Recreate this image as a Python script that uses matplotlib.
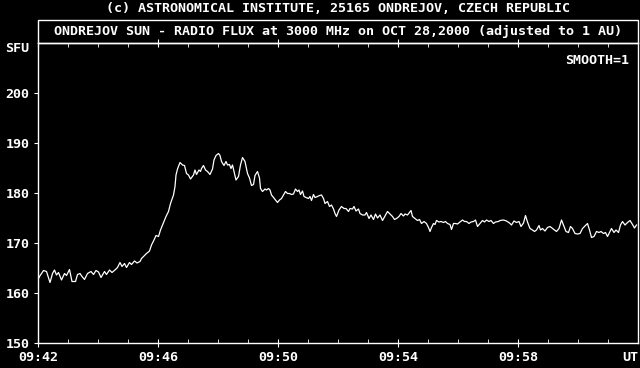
import matplotlib.pyplot as plt
from matplotlib.patches import Rectangle

# seconds after 09:42:00 UT and flux in SFU
seconds = [
    0, 3, 11, 17, 24, 29, 33, 37, 41, 47, 53, 57, 63, 68, 75, 79, 84, 88, 93, 99,
    106, 111, 116, 121, 126, 133, 137, 143, 148, 155, 159, 164, 168, 173, 177, 183, 187, 193, 198, 204,
    207, 217, 223, 227, 232, 236, 241, 245, 251, 256, 261, 265, 271, 274, 276, 279, 284, 289, 293, 297,
    301, 305, 311, 314, 317, 322, 325, 327, 331, 335, 339, 344, 349, 352, 356, 361, 364, 367, 372, 376,
    379, 383, 386, 389, 392, 396, 401, 405, 409, 414, 419, 423, 427, 431, 434, 439, 443, 445, 449, 454,
    457, 461, 464, 467, 471, 475, 479, 483, 487, 491, 495, 499, 503, 507, 511, 515, 519, 522, 525, 529,
    532, 536, 541, 544, 547, 551, 554, 559, 563, 567, 571, 574, 579, 583, 587, 591, 594, 597, 602, 607,
    612, 616, 621, 624, 629, 632, 636, 641, 644, 649, 654, 657, 662, 666, 671, 675, 679, 684, 689, 694,
    699, 704, 709, 713, 717, 722, 726, 731, 734, 739, 743, 746, 749, 754, 759, 763, 767, 772, 777, 781,
    784, 787, 791, 794, 797, 802, 806, 811, 815, 819, 824, 827, 831, 835, 839, 844, 849, 853, 857, 862,
    866, 871, 875, 879, 884, 889, 893, 897, 902, 906, 911, 915, 921, 924, 931, 937, 943, 947, 952, 957,
    962, 966, 971, 975, 979, 984, 989, 993, 997, 1002, 1005, 1009, 1014, 1019, 1024, 1029, 1033, 1037, 1042, 1047,
    1052, 1056, 1061, 1065, 1069, 1074, 1079, 1084, 1089, 1093, 1099, 1103, 1107, 1112, 1117, 1122, 1126, 1131, 1135, 1139,
    1143, 1147, 1152, 1156, 1161, 1165, 1169, 1174, 1179, 1184, 1189, 1193, 1197,
]
flux = [
    162.7, 163.3, 164.5, 164.3, 162.1, 163.9, 164.6, 163.6, 164.1, 162.6, 163.9, 163.5, 164.7, 162.3, 162.3, 163.7, 163.9, 163.3, 162.7, 163.9,
    164.3, 163.7, 164.5, 164.2, 163.1, 164.3, 163.7, 164.6, 164.1, 164.7, 165.1, 166.1, 165.3, 165.9, 165.1, 166.1, 165.7, 166.4, 166.0, 166.3,
    166.9, 167.9, 168.4, 169.6, 170.6, 171.5, 171.3, 172.6, 174.1, 175.3, 176.3, 177.9, 179.6, 181.3, 183.6, 184.8, 186.1, 185.6, 185.5, 183.9,
    183.6, 182.8, 183.6, 184.6, 183.7, 184.6, 184.3, 184.9, 185.5, 184.6, 184.3, 183.7, 184.8, 186.6, 187.5, 187.9, 187.5, 186.3, 185.5, 186.3,
    185.6, 185.7, 184.9, 185.6, 184.3, 182.6, 183.3, 185.6, 187.1, 186.3, 183.9, 183.0, 181.5, 181.7, 183.5, 184.3, 183.0, 180.9, 180.3, 180.8,
    180.6, 180.9, 180.6, 179.6, 179.1, 178.6, 178.1, 178.6, 178.9, 179.6, 180.3, 179.9, 179.9, 179.7, 179.8, 180.8, 180.3, 180.6, 179.7, 180.4,
    179.3, 179.1, 178.9, 179.3, 178.5, 179.7, 179.1, 179.3, 179.5, 179.6, 178.9, 177.9, 178.3, 177.3, 177.6, 176.8, 175.9, 175.3, 176.6, 177.3,
    176.9, 176.9, 176.3, 176.9, 176.8, 177.3, 176.4, 176.8, 175.9, 175.6, 175.6, 176.1, 174.9, 175.6, 174.7, 175.8, 175.0, 175.6, 174.5, 175.4,
    176.3, 175.8, 175.3, 174.7, 174.9, 175.3, 175.9, 175.4, 175.8, 175.6, 176.1, 176.5, 175.3, 174.9, 174.5, 174.7, 173.9, 174.3, 173.9, 173.1,
    172.3, 173.1, 173.9, 173.7, 174.5, 174.2, 174.3, 174.1, 174.3, 173.9, 173.7, 172.7, 173.9, 173.9, 173.8, 174.2, 174.6, 174.3, 174.3, 173.9,
    174.2, 174.3, 174.6, 173.3, 173.9, 174.5, 174.2, 174.6, 174.3, 174.5, 173.9, 174.2, 174.3, 174.5, 174.6, 174.4, 174.0, 173.6, 174.4, 174.1,
    174.3, 173.3, 174.0, 175.5, 174.2, 172.9, 172.6, 172.3, 172.6, 173.5, 172.6, 172.9, 172.4, 173.1, 173.3, 172.9, 172.6, 172.3, 172.9, 174.6,
    173.3, 172.3, 172.1, 173.3, 172.9, 171.9, 171.8, 171.9, 172.9, 173.3, 173.9, 172.6, 171.1, 171.3, 172.3, 172.1, 172.3, 171.9, 172.1, 171.3,
    172.1, 172.9, 172.1, 172.6, 172.1, 173.6, 174.3, 173.6, 174.1, 174.5, 173.7, 173.0, 173.6,
]

time_ticks = [0, 4, 8, 12, 16]
time_labels = ["09:42", "09:46", "09:50", "09:54", "09:58"]
sfu_ticks = [150, 160, 170, 180, 190, 200]

W, H = 640, 368
font = "DejaVu Sans Mono"
fs = 9.6
txt = dict(fontfamily=font, fontsize=fs, fontweight="bold", color="white")

fig = plt.figure(figsize=(6.4, 3.68), dpi=100, facecolor="black")
ax = fig.add_axes([38 / W, (H - 343) / H, 600 / W, 300 / H], facecolor="black")

minutes = [s / 60 for s in seconds]
ax.plot(minutes, flux, color="white", lw=0.9)

ax.set_xlim(0, 20)
ax.set_ylim(150, 210)
for sp in ax.spines.values():
    sp.set_color("white")
    sp.set_linewidth(1.0)

ax.set_xticks(time_ticks)
ax.set_xticklabels(time_labels, **txt)
ax.set_xticks(range(0, 21), minor=True)
ax.tick_params(axis="x", which="major", direction="inout", length=6, color="white", pad=3, top=True)
ax.tick_params(axis="x", which="minor", direction="in", length=3, color="white", top=True)
ax.set_yticks(sfu_ticks)
ax.set_yticklabels([str(v) for v in sfu_ticks], **txt)
ax.tick_params(axis="y", direction="out", length=3, color="white", pad=3)

ax.text(20, -0.047, "UT", transform=ax.get_xaxis_transform(), ha="right", va="center", **txt)
ax.text(-0.015, 209, "SFU", transform=ax.get_yaxis_transform(), ha="right", va="center", **txt)
ax.text(0.985, 0.94, "SMOOTH=1", transform=ax.transAxes, ha="right", va="center", **txt)

# title box above the plot
fig.patches.append(Rectangle((38 / W, (H - 43) / H), 600 / W, 23 / H, transform=fig.transFigure,
                             fill=False, edgecolor="white", lw=1.0))
fig.text(338 / W, (H - 31) / H, "ONDREJOV SUN - RADIO FLUX at 3000 MHz on OCT 28,2000 (adjusted to 1 AU)",
         ha="center", va="center", **txt)
fig.text(338 / W, (H - 8) / H, "(c) ASTRONOMICAL INSTITUTE, 25165 ONDREJOV, CZECH REPUBLIC",
         ha="center", va="center", **txt)

fig.savefig("out.png", dpi=100, facecolor="black")
